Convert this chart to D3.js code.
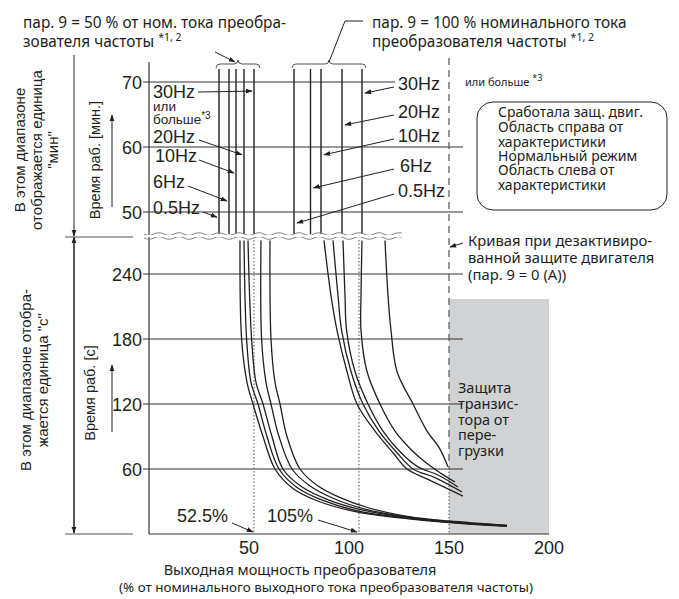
<!DOCTYPE html>
<html>
<head>
<meta charset="utf-8">
<script src="https://d3js.org/d3.v7.min.js"></script>
<style>
  body { margin: 0; background: #fff; }
  .ru { font-family: "Noto Sans", sans-serif; fill: #231f20; }
  .ar { font-family: "Liberation Sans", Arial, sans-serif; fill: #231f20; }
</style>
</head>
<body>
<div id="chart"></div>
<script>

// ---- data ----
var xTicks = [50, 100, 150, 200];
var minTicks = [50, 60, 70];
var secTicks = [60, 120, 180, 240];
var freqs = ["0.5Hz", "6Hz", "10Hz", "20Hz", "30Hz"];

// vertical lines in the "min" band, % of rated current
var upper50 = [35, 40, 43.5, 47.5, 52.5];
var upper100 = [72.5, 80.75, 86, 96.5, 106.5];
// where the label arrows hit those lines (min)
var arrowMin50 = [49.2, 51.7, 56, 58.8, 68.6];
var arrowMin100 = [48.3, 53.7, 58.8, 63.4, 68.3];

// curves in the "s" band, [%, s]
var curves50 = [
  [[45.5,271],[46.3,180],[49,140],[52,120],[57,90],[63,60],[72,42],[85,30],[105,20],[130,14],[150,10.5],[179,7]],
  [[47.5,271],[48.8,180],[51,140],[54.5,120],[59,90],[65,60],[74,43],[87,31],[105,21],[130,14.5],[150,11],[179,7.5]],
  [[49.5,271],[51.3,180],[53.5,140],[57,120],[61.5,90],[67,60],[76,44],[89,32],[107,22],[130,15],[150,11],[179,7.5]],
  [[56,271],[56.3,180],[58.5,140],[61,120],[65,90],[71.5,60],[80,45],[92,33],[108,23],[130,15.5],[150,11.5],[179,8]],
  [[60.5,271],[61,180],[63,140],[65.5,120],[69,90],[75.5,60],[84,45],[95,34],[110,24],[130,16],[150,12],[179,8]]
];
var curves100 = [
  [[87.5,271],[91,220],[94,188],[99,150],[104,120],[113,95],[122,75],[129,60],[140,50],[157,35]],
  [[92,271],[94.5,220],[96.3,188],[101,150],[107,120],[115,95],[124,75],[132,60],[143,52],[156.5,38.8]],
  [[97,271],[98,220],[98.8,188],[103,150],[109.5,120],[117,95],[126,75],[134.5,62],[145,54],[154.5,43.4]],
  [[106.5,271],[106,220],[106,188],[109,150],[115.5,120],[123,95],[131,78],[139,65],[146,56],[153,48]],
  [[118,271],[119.5,220],[121,188],[124,150],[132,120],[139,95],[145,80],[149.5,62]]
];

var legendLines = ["Сработала защ. двиг.", "Область справа от", "характеристики",
                   "Нормальный режим", "Область слева от", "характеристики"];
var transLines = ["Защита", "транзис-", "тора от", "пере-", "грузки"];
var curveOffLines = ["Кривая при дезактивиро-", "ванной защите двигателя", "(пар. 9 = 0 (A))"];

// ---- scales ----
var x = d3.scaleLinear().domain([0, 200]).range([149, 549]);
var yS = d3.scaleLinear().domain([0, 240]).range([534, 274]);
var yM = d3.scaleLinear().domain([50, 70]).range([212, 82]);
var breakY = 236;

var svg = d3.select("#chart").append("svg")
  .attr("width", 679).attr("height", 599);

var defs = svg.append("defs");
defs.append("marker").attr("id", "ah")
  .attr("viewBox", "0 0 10 10").attr("refX", 9).attr("refY", 5)
  .attr("markerWidth", 7).attr("markerHeight", 7).attr("orient", "auto")
  .attr("markerUnits", "userSpaceOnUse")
  .append("path").attr("d", "M0,1.5 L10,5 L0,8.5 Z").attr("fill", "#231f20");

// grey transistor protection area
svg.append("rect")
  .attr("x", x(150)).attr("y", 299)
  .attr("width", x(200) - x(150)).attr("height", yS(0) - 299)
  .attr("fill", "#d1d2d4");

// grid lines
svg.selectAll(".gm").data(minTicks).enter().append("line")
  .attr("x1", x(0)).attr("x2", function(d) { return d == 70 ? 395 : 463; })
  .attr("y1", yM).attr("y2", yM)
  .attr("stroke", "#333").attr("stroke-width", 1);
svg.selectAll(".gs").data(secTicks).enter().append("line")
  .attr("x1", x(0)).attr("x2", 463)
  .attr("y1", yS).attr("y2", yS)
  .attr("stroke", "#333").attr("stroke-width", 1);

// dotted helper lines
[52.5, 105].forEach(function(p) {
  svg.append("line").attr("x1", x(p)).attr("x2", x(p))
    .attr("y1", breakY + 4).attr("y2", yS(0))
    .attr("stroke", "#555").attr("stroke-width", 1).attr("stroke-dasharray", "1.5,2");
});
// 150 % line: dashed above, dotted at the bottom
svg.append("line").attr("x1", x(150)).attr("x2", x(150))
  .attr("y1", 58).attr("y2", 468)
  .attr("stroke", "#555").attr("stroke-width", 1.2).attr("stroke-dasharray", "7,5");
svg.append("line").attr("x1", x(150)).attr("x2", x(150))
  .attr("y1", 468).attr("y2", yS(0))
  .attr("stroke", "#555").attr("stroke-width", 1).attr("stroke-dasharray", "1.5,2");

// axes
svg.append("line").attr("x1", x(0)).attr("x2", x(0)).attr("y1", 62).attr("y2", yS(0))
  .attr("stroke", "#333").attr("stroke-width", 1.2);
svg.append("line").attr("x1", x(0)).attr("x2", x(200)).attr("y1", yS(0)).attr("y2", yS(0))
  .attr("stroke", "#333").attr("stroke-width", 1.2);

svg.selectAll(".tm").data(minTicks).enter().append("line")
  .attr("x1", x(0) - 6).attr("x2", x(0)).attr("y1", yM).attr("y2", yM).attr("stroke", "#333");
svg.selectAll(".tml").data(minTicks).enter().append("text")
  .attr("class", "ar").attr("x", x(0) - 7).attr("y", function(d) { return yM(d) + 6.5; })
  .attr("text-anchor", "end").attr("font-size", 18).text(function(d) { return d; });
svg.selectAll(".ts").data(secTicks).enter().append("line")
  .attr("x1", x(0) - 6).attr("x2", x(0)).attr("y1", yS).attr("y2", yS).attr("stroke", "#333");
svg.selectAll(".tsl").data(secTicks).enter().append("text")
  .attr("class", "ar").attr("x", x(0) - 7).attr("y", function(d) { return yS(d) + 6.5; })
  .attr("text-anchor", "end").attr("font-size", 18).text(function(d) { return d; });
svg.selectAll(".txl").data(xTicks).enter().append("text")
  .attr("class", "ar").attr("x", x).attr("y", 554)
  .attr("text-anchor", "middle").attr("font-size", 18).text(function(d) { return d; });

// vertical lines in the minute band
function vlines(arr) {
  svg.selectAll(null).data(arr).enter().append("line")
    .attr("x1", x).attr("x2", x).attr("y1", 69).attr("y2", breakY - 2)
    .attr("stroke", "#231f20").attr("stroke-width", 1.4);
}
vlines(upper50);
vlines(upper100);

// curves in the seconds band
var line = d3.line()
  .x(function(d) { return x(d[0]); })
  .y(function(d) { return yS(d[1]); })
  .curve(d3.curveCatmullRom.alpha(0.5));
svg.selectAll(".c").data(curves50.concat(curves100)).enter().append("path")
  .attr("d", line).attr("fill", "none")
  .attr("stroke", "#231f20").attr("stroke-width", 1.3);

// break marks (two wavy lines)
[breakY - 2, breakY + 2].forEach(function(yy) {
  var pts = d3.range(144, 404, 2).map(function(px) {
    return [px, yy + 1.3 * Math.sin((px - 144) / 20 * 2 * Math.PI)];
  });
  svg.append("path").attr("d", d3.line()(pts)).attr("fill", "none")
    .attr("stroke", "#888").attr("stroke-width", 1);
});
svg.append("rect").attr("x", 144).attr("y", breakY - 1).attr("width", 260).attr("height", 2).attr("fill", "#fff");

// braces over the groups
function brace(x1, x2, yy) {
  var m = (x1 + x2) / 2;
  return "M" + x1 + "," + (yy + 5) + " q0,-4 4,-4 L" + (m - 4) + "," + (yy + 1) +
    " q4,0 4,-4 q0,4 4,4 L" + (x2 - 4) + "," + (yy + 1) + " q4,0 4,4";
}
svg.append("path").attr("d", brace(x(upper50[0]) - 3, x(upper50[4]) + 6, 63))
  .attr("fill", "none").attr("stroke", "#555").attr("stroke-width", 1);
svg.append("path").attr("d", brace(x(upper100[0]) - 2, x(upper100[4]) + 4, 63))
  .attr("fill", "none").attr("stroke", "#555").attr("stroke-width", 1);

function arrow(x1, y1, x2, y2) {
  svg.append("line").attr("x1", x1).attr("y1", y1).attr("x2", x2).attr("y2", y2)
    .attr("stroke", "#231f20").attr("stroke-width", 1).attr("marker-end", "url(#ah)");
}
arrow(215, 52, 235, 62);
svg.append("path").attr("d", "M363,21 L345,21 L329,62").attr("fill", "none")
  .attr("stroke", "#231f20").attr("stroke-width", 1);

// frequency labels, left group
var left50 = [[153, 214], [153, 188], [155, 162], [153, 143], [153, 98]];
var from50 = [[203, 212], [188, 186], [199, 160], [199, 140], [198, 92]];
freqs.forEach(function(f, i) {
  svg.append("text").attr("class", "ar").attr("x", left50[i][0]).attr("y", left50[i][1])
    .attr("font-size", 18).text(f);
  arrow(from50[i][0], from50[i][1], x(upper50[i]) - 2, yM(arrowMin50[i]));
});
svg.append("text").attr("class", "ar").attr("x", 153).attr("y", 111).attr("font-size", 13.5).text("или");
svg.append("text").attr("class", "ar").attr("x", 153).attr("y", 124).attr("font-size", 13.5)
  .text("больше").append("tspan").attr("dy", -5).attr("font-size", 10).text("*3");

// frequency labels, right group
var right100 = [[398, 197], [400, 172], [398, 142], [398, 118], [398, 90]];
freqs.forEach(function(f, i) {
  svg.append("text").attr("class", "ar").attr("x", right100[i][0]).attr("y", right100[i][1])
    .attr("font-size", 18).text(f);
  arrow(394, right100[i][1] - 3, x(upper100[i]) + 3, yM(arrowMin100[i]));
});
svg.append("text").attr("class", "ru").attr("x", 465).attr("y", 86).attr("font-size", 11)
  .text("или больше ").append("tspan").attr("dy", -5).attr("font-size", 9).text("*3");

// titles
var t1 = svg.append("text").attr("class", "ru").attr("font-size", 15.4);
t1.append("tspan").attr("x", 23).attr("y", 28).text("пар. 9 = 50 % от ном. тока преобра-");
t1.append("tspan").attr("x", 23).attr("y", 47).text("зователя частоты ");
t1.append("tspan").attr("dy", -6).attr("font-size", 10.5).text("*1, 2");
var t2 = svg.append("text").attr("class", "ru").attr("font-size", 15.4);
t2.append("tspan").attr("x", 372).attr("y", 28).text("пар. 9 = 100 % номинального тока");
t2.append("tspan").attr("x", 372).attr("y", 47).text("преобразователя частоты ");
t2.append("tspan").attr("dy", -6).attr("font-size", 10.5).text("*1, 2");

// legend box
svg.append("rect").attr("x", 477).attr("y", 102).attr("width", 190).attr("height", 108)
  .attr("rx", 16).attr("fill", "#fff").attr("stroke", "#231f20").attr("stroke-width", 1);
svg.selectAll(".lg").data(legendLines).enter().append("text")
  .attr("class", "ru").attr("x", 498).attr("font-size", 14)
  .attr("y", function(d, i) { return [117, 132, 147, 161, 175, 190][i]; })
  .text(function(d) { return d; });

// motor protection off note
svg.selectAll(".co").data(curveOffLines).enter().append("text")
  .attr("class", "ru").attr("x", 468).attr("font-size", 14.8)
  .attr("y", function(d, i) { return 246 + i * 17; }).text(function(d) { return d; });
arrow(463, 243, x(150) + 1, 247);

// transistor protection note
svg.selectAll(".tp").data(transLines).enter().append("text")
  .attr("class", "ru").attr("x", 458).attr("font-size", 14.5)
  .attr("y", function(d, i) { return 393 + i * 15.8; }).text(function(d) { return d; });

// percent notes
svg.append("text").attr("class", "ar").attr("x", 177).attr("y", 522).attr("font-size", 18).text("52.5%");
arrow(232, 523, x(52.5) - 1, 532);
svg.append("text").attr("class", "ar").attr("x", 267).attr("y", 522).attr("font-size", 18).text("105%");
arrow(318, 520, x(105) - 2, 532);

// x axis title
svg.append("text").attr("class", "ru").attr("x", 300).attr("y", 575).attr("font-size", 14.5)
  .attr("text-anchor", "middle").text("Выходная мощность преобразователя");
svg.append("text").attr("class", "ru").attr("x", 326).attr("y", 592).attr("font-size", 13.4)
  .attr("text-anchor", "middle").text("(% от номинального выходного тока преобразователя частоты)");

// y dimension arrows on the left
function dimLine(y1, y2) {
  svg.append("line").attr("x1", 74).attr("x2", 74).attr("y1", y1).attr("y2", y2)
    .attr("stroke", "#231f20").attr("stroke-width", 1).attr("marker-end", "url(#ah)");
}
dimLine(55, breakY);
dimLine(breakY + 1, yS(0) - 1);
dimLine(yS(0) - 1, breakY + 1);
svg.append("line").attr("x1", 65).attr("x2", 133).attr("y1", breakY + 1).attr("y2", breakY + 1).attr("stroke", "#555");
svg.append("line").attr("x1", 65).attr("x2", 133).attr("y1", yS(0)).attr("y2", yS(0)).attr("stroke", "#555");

// small up arrows next to axis titles
arrow(112, 207, 112, 115);
arrow(112, 432, 112, 365);

function vtext(cx, cy, lines, size) {
  var t = svg.append("text").attr("class", "ar").attr("font-size", size)
    .attr("text-anchor", "middle")
    .attr("transform", "translate(" + cx + "," + cy + ") rotate(-90)");
  lines.forEach(function(l, i) {
    t.append("tspan").attr("x", 0).attr("y", i * 16.5).text(l);
  });
}
vtext(25, 150, ["В этом диапазоне", "отображается единица", "\"мин\""], 15);
vtext(31, 380, ["В этом диапазоне отобра-", "жается единица \"с\""], 15);
vtext(100, 160, ["Время раб. [мин.]"], 14.5);
vtext(95, 393, ["Время раб. [с]"], 14.5);

</script>
</body>
</html>
